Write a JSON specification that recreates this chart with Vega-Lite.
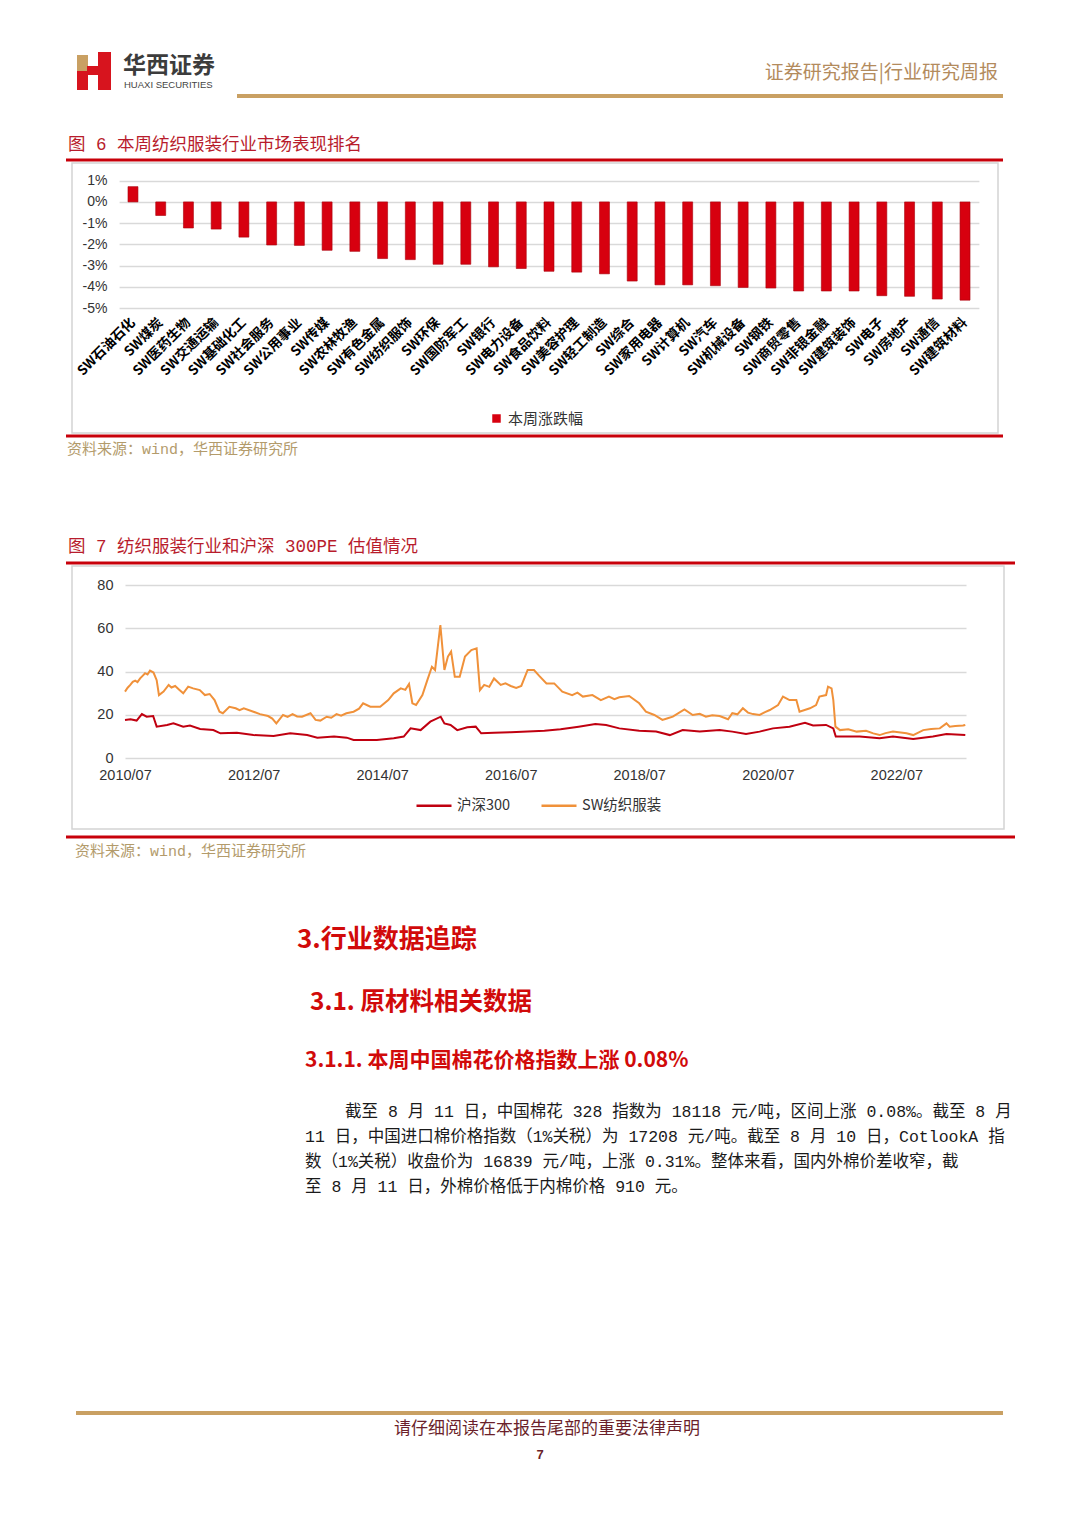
{
"$schema": "https://vega.github.io/schema/vega-lite/v6.json",
"width": 1080, "height": 1527, "padding": 0, "autosize": {"type": "none"},
"background": "white",
"config": {"view": {"stroke": null}, "font": "Noto Sans CJK SC"},
"datasets": {
"bars": [
{"name": "SW石油石化", "chg": 0.72, "series": "本周涨跌幅"},
{"name": "SW煤炭", "chg": -0.64, "series": "本周涨跌幅"},
{"name": "SW医药生物", "chg": -1.23, "series": "本周涨跌幅"},
{"name": "SW交通运输", "chg": -1.28, "series": "本周涨跌幅"},
{"name": "SW基础化工", "chg": -1.66, "series": "本周涨跌幅"},
{"name": "SW社会服务", "chg": -2.03, "series": "本周涨跌幅"},
{"name": "SW公用事业", "chg": -2.05, "series": "本周涨跌幅"},
{"name": "SW传媒", "chg": -2.28, "series": "本周涨跌幅"},
{"name": "SW农林牧渔", "chg": -2.33, "series": "本周涨跌幅"},
{"name": "SW有色金属", "chg": -2.67, "series": "本周涨跌幅"},
{"name": "SW纺织服饰", "chg": -2.72, "series": "本周涨跌幅"},
{"name": "SW环保", "chg": -2.94, "series": "本周涨跌幅"},
{"name": "SW国防军工", "chg": -2.94, "series": "本周涨跌幅"},
{"name": "SW银行", "chg": -3.06, "series": "本周涨跌幅"},
{"name": "SW电力设备", "chg": -3.14, "series": "本周涨跌幅"},
{"name": "SW食品饮料", "chg": -3.27, "series": "本周涨跌幅"},
{"name": "SW美容护理", "chg": -3.31, "series": "本周涨跌幅"},
{"name": "SW轻工制造", "chg": -3.39, "series": "本周涨跌幅"},
{"name": "SW综合", "chg": -3.73, "series": "本周涨跌幅"},
{"name": "SW家用电器", "chg": -3.91, "series": "本周涨跌幅"},
{"name": "SW计算机", "chg": -3.91, "series": "本周涨跌幅"},
{"name": "SW汽车", "chg": -3.95, "series": "本周涨跌幅"},
{"name": "SW机械设备", "chg": -4.03, "series": "本周涨跌幅"},
{"name": "SW钢铁", "chg": -4.06, "series": "本周涨跌幅"},
{"name": "SW商贸零售", "chg": -4.2, "series": "本周涨跌幅"},
{"name": "SW非银金融", "chg": -4.2, "series": "本周涨跌幅"},
{"name": "SW建筑装饰", "chg": -4.2, "series": "本周涨跌幅"},
{"name": "SW电子", "chg": -4.42, "series": "本周涨跌幅"},
{"name": "SW房地产", "chg": -4.45, "series": "本周涨跌幅"},
{"name": "SW通信", "chg": -4.58, "series": "本周涨跌幅"},
{"name": "SW建筑材料", "chg": -4.63, "series": "本周涨跌幅"}
],
"pe": [
{"date": "2010-07-01", "series": "SW纺织服装", "pe": 30.7},
{"date": "2010-07-16", "series": "SW纺织服装", "pe": 32.5},
{"date": "2010-07-31", "series": "SW纺织服装", "pe": 33.8},
{"date": "2010-08-14", "series": "SW纺织服装", "pe": 35.2},
{"date": "2010-08-28", "series": "SW纺织服装", "pe": 35.8},
{"date": "2010-09-10", "series": "SW纺织服装", "pe": 35.1},
{"date": "2010-09-25", "series": "SW纺织服装", "pe": 36.8},
{"date": "2010-10-09", "series": "SW纺织服装", "pe": 38.0},
{"date": "2010-10-23", "series": "SW纺织服装", "pe": 39.2},
{"date": "2010-11-06", "series": "SW纺织服装", "pe": 38.6},
{"date": "2010-11-20", "series": "SW纺织服装", "pe": 40.4},
{"date": "2010-12-10", "series": "SW纺织服装", "pe": 39.5},
{"date": "2010-12-28", "series": "SW纺织服装", "pe": 36.0},
{"date": "2011-01-10", "series": "SW纺织服装", "pe": 29.1},
{"date": "2011-02-05", "series": "SW纺织服装", "pe": 30.7},
{"date": "2011-03-06", "series": "SW纺织服装", "pe": 33.8},
{"date": "2011-03-22", "series": "SW纺织服装", "pe": 32.6},
{"date": "2011-04-12", "series": "SW纺织服装", "pe": 33.3},
{"date": "2011-05-05", "series": "SW纺织服装", "pe": 31.6},
{"date": "2011-05-28", "series": "SW纺织服装", "pe": 29.9},
{"date": "2011-06-25", "series": "SW纺织服装", "pe": 33.0},
{"date": "2011-07-23", "series": "SW纺织服装", "pe": 32.2},
{"date": "2011-08-30", "series": "SW纺织服装", "pe": 31.4},
{"date": "2011-09-28", "series": "SW纺织服装", "pe": 29.1},
{"date": "2011-10-25", "series": "SW纺织服装", "pe": 29.6},
{"date": "2011-11-22", "series": "SW纺织服装", "pe": 26.8},
{"date": "2011-12-20", "series": "SW纺织服装", "pe": 21.4},
{"date": "2012-01-08", "series": "SW纺织服装", "pe": 20.7},
{"date": "2012-02-14", "series": "SW纺织服装", "pe": 23.7},
{"date": "2012-03-21", "series": "SW纺织服装", "pe": 23.0},
{"date": "2012-04-12", "series": "SW纺织服装", "pe": 22.1},
{"date": "2012-05-06", "series": "SW纺织服装", "pe": 23.0},
{"date": "2012-06-30", "series": "SW纺织服装", "pe": 21.4},
{"date": "2012-08-06", "series": "SW纺织服装", "pe": 20.3},
{"date": "2012-09-21", "series": "SW纺织服装", "pe": 19.4},
{"date": "2012-10-15", "series": "SW纺织服装", "pe": 18.2},
{"date": "2012-11-07", "series": "SW纺织服装", "pe": 16.0},
{"date": "2012-12-15", "series": "SW纺织服装", "pe": 19.9},
{"date": "2013-01-10", "series": "SW纺织服装", "pe": 19.0},
{"date": "2013-02-07", "series": "SW纺织服装", "pe": 20.3},
{"date": "2013-03-05", "series": "SW纺织服装", "pe": 19.2},
{"date": "2013-04-02", "series": "SW纺织服装", "pe": 19.1},
{"date": "2013-05-20", "series": "SW纺织服装", "pe": 20.7},
{"date": "2013-06-18", "series": "SW纺织服装", "pe": 17.6},
{"date": "2013-07-15", "series": "SW纺织服装", "pe": 17.3},
{"date": "2013-08-20", "series": "SW纺织服装", "pe": 19.1},
{"date": "2013-09-15", "series": "SW纺织服装", "pe": 18.6},
{"date": "2013-10-15", "series": "SW纺织服装", "pe": 20.3},
{"date": "2013-11-10", "series": "SW纺织服装", "pe": 19.6},
{"date": "2013-12-10", "series": "SW纺织服装", "pe": 20.7},
{"date": "2014-01-20", "series": "SW纺织服装", "pe": 21.4},
{"date": "2014-02-20", "series": "SW纺织服装", "pe": 22.8},
{"date": "2014-03-15", "series": "SW纺织服装", "pe": 25.3},
{"date": "2014-04-25", "series": "SW纺织服装", "pe": 23.7},
{"date": "2014-06-20", "series": "SW纺织服装", "pe": 23.7},
{"date": "2014-08-05", "series": "SW纺织服装", "pe": 26.8},
{"date": "2014-09-05", "series": "SW纺织服装", "pe": 29.9},
{"date": "2014-10-15", "series": "SW纺织服装", "pe": 32.2},
{"date": "2014-11-10", "series": "SW纺织服装", "pe": 31.5},
{"date": "2014-12-01", "series": "SW纺织服装", "pe": 34.2},
{"date": "2014-12-20", "series": "SW纺织服装", "pe": 25.3},
{"date": "2015-01-10", "series": "SW纺织服装", "pe": 24.5},
{"date": "2015-02-15", "series": "SW纺织服装", "pe": 29.1},
{"date": "2015-03-15", "series": "SW纺织服装", "pe": 36.0},
{"date": "2015-04-10", "series": "SW纺织服装", "pe": 42.2},
{"date": "2015-04-28", "series": "SW纺织服装", "pe": 40.7},
{"date": "2015-05-28", "series": "SW纺织服装", "pe": 61.5},
{"date": "2015-06-20", "series": "SW纺织服装", "pe": 40.7},
{"date": "2015-07-10", "series": "SW纺织服装", "pe": 46.9},
{"date": "2015-07-28", "series": "SW纺织服装", "pe": 49.2},
{"date": "2015-08-18", "series": "SW纺织服装", "pe": 37.6},
{"date": "2015-09-15", "series": "SW纺织服装", "pe": 37.6},
{"date": "2015-10-15", "series": "SW纺织服装", "pe": 46.9},
{"date": "2015-11-20", "series": "SW纺织服装", "pe": 49.9},
{"date": "2015-12-20", "series": "SW纺织服装", "pe": 50.7},
{"date": "2016-01-08", "series": "SW纺织服装", "pe": 31.4},
{"date": "2016-02-01", "series": "SW纺织服装", "pe": 33.8},
{"date": "2016-03-01", "series": "SW纺织服装", "pe": 32.9},
{"date": "2016-03-28", "series": "SW纺织服装", "pe": 36.8},
{"date": "2016-05-05", "series": "SW纺织服装", "pe": 33.8},
{"date": "2016-06-01", "series": "SW纺织服装", "pe": 34.5},
{"date": "2016-07-01", "series": "SW纺织服装", "pe": 33.3},
{"date": "2016-08-01", "series": "SW纺织服装", "pe": 32.4},
{"date": "2016-08-30", "series": "SW纺织服装", "pe": 33.3},
{"date": "2016-10-05", "series": "SW纺织服装", "pe": 40.7},
{"date": "2016-11-10", "series": "SW纺织服装", "pe": 40.7},
{"date": "2016-12-10", "series": "SW纺织服装", "pe": 38.0},
{"date": "2017-01-20", "series": "SW纺织服装", "pe": 34.5},
{"date": "2017-03-05", "series": "SW纺织服装", "pe": 34.5},
{"date": "2017-04-20", "series": "SW纺织服装", "pe": 30.7},
{"date": "2017-06-15", "series": "SW纺织服装", "pe": 29.1},
{"date": "2017-07-15", "series": "SW纺织服装", "pe": 30.2},
{"date": "2017-08-15", "series": "SW纺织服装", "pe": 28.4},
{"date": "2017-10-08", "series": "SW纺织服装", "pe": 29.1},
{"date": "2017-11-25", "series": "SW纺织服装", "pe": 26.8},
{"date": "2018-01-10", "series": "SW纺织服装", "pe": 28.4},
{"date": "2018-02-10", "series": "SW纺织服装", "pe": 27.2},
{"date": "2018-03-10", "series": "SW纺织服装", "pe": 28.1},
{"date": "2018-05-05", "series": "SW纺织服装", "pe": 28.7},
{"date": "2018-07-01", "series": "SW纺织服装", "pe": 25.3},
{"date": "2018-08-08", "series": "SW纺织服装", "pe": 21.4},
{"date": "2018-09-25", "series": "SW纺织服装", "pe": 19.9},
{"date": "2018-11-10", "series": "SW纺织服装", "pe": 17.6},
{"date": "2018-12-10", "series": "SW纺织服装", "pe": 18.4},
{"date": "2019-01-08", "series": "SW纺织服装", "pe": 19.1},
{"date": "2019-03-15", "series": "SW纺织服装", "pe": 22.5},
{"date": "2019-05-01", "series": "SW纺织服装", "pe": 19.9},
{"date": "2019-06-10", "series": "SW纺织服装", "pe": 20.4},
{"date": "2019-07-15", "series": "SW纺织服装", "pe": 19.1},
{"date": "2019-08-20", "series": "SW纺织服装", "pe": 19.8},
{"date": "2019-10-01", "series": "SW纺织服装", "pe": 19.4},
{"date": "2019-11-18", "series": "SW纺织服装", "pe": 17.9},
{"date": "2019-12-12", "series": "SW纺织服装", "pe": 20.7},
{"date": "2020-01-10", "series": "SW纺织服装", "pe": 20.2},
{"date": "2020-02-10", "series": "SW纺织服装", "pe": 23.0},
{"date": "2020-03-10", "series": "SW纺织服装", "pe": 21.0},
{"date": "2020-04-08", "series": "SW纺织服装", "pe": 20.3},
{"date": "2020-05-15", "series": "SW纺织服装", "pe": 19.9},
{"date": "2020-06-15", "series": "SW纺织服装", "pe": 21.2},
{"date": "2020-07-12", "series": "SW纺织服装", "pe": 22.2},
{"date": "2020-08-28", "series": "SW纺织服装", "pe": 24.5},
{"date": "2020-09-25", "series": "SW纺织服装", "pe": 28.4},
{"date": "2020-11-01", "series": "SW纺织服装", "pe": 26.8},
{"date": "2020-12-10", "series": "SW纺织服装", "pe": 26.8},
{"date": "2020-12-28", "series": "SW纺织服装", "pe": 21.4},
{"date": "2021-02-25", "series": "SW纺织服装", "pe": 23.0},
{"date": "2021-04-01", "series": "SW纺织服装", "pe": 24.5},
{"date": "2021-04-20", "series": "SW纺织服装", "pe": 28.4},
{"date": "2021-05-28", "series": "SW纺织服装", "pe": 29.1},
{"date": "2021-06-08", "series": "SW纺织服装", "pe": 33.0},
{"date": "2021-06-28", "series": "SW纺织服装", "pe": 32.2},
{"date": "2021-07-08", "series": "SW纺织服装", "pe": 26.8},
{"date": "2021-07-20", "series": "SW纺织服装", "pe": 14.5},
{"date": "2021-08-15", "series": "SW纺织服装", "pe": 12.9},
{"date": "2021-10-01", "series": "SW纺织服装", "pe": 13.3},
{"date": "2021-11-18", "series": "SW纺织服装", "pe": 12.2},
{"date": "2022-01-10", "series": "SW纺织服装", "pe": 12.6},
{"date": "2022-02-20", "series": "SW纺织服装", "pe": 11.4},
{"date": "2022-03-28", "series": "SW纺织服装", "pe": 10.6},
{"date": "2022-05-01", "series": "SW纺织服装", "pe": 11.5},
{"date": "2022-06-12", "series": "SW纺织服装", "pe": 12.2},
{"date": "2022-08-28", "series": "SW纺织服装", "pe": 11.4},
{"date": "2022-10-05", "series": "SW纺织服装", "pe": 10.6},
{"date": "2022-12-01", "series": "SW纺织服装", "pe": 12.9},
{"date": "2023-01-15", "series": "SW纺织服装", "pe": 13.4},
{"date": "2023-03-05", "series": "SW纺织服装", "pe": 13.7},
{"date": "2023-04-12", "series": "SW纺织服装", "pe": 16.0},
{"date": "2023-04-30", "series": "SW纺织服装", "pe": 14.5},
{"date": "2023-06-01", "series": "SW纺织服装", "pe": 14.8},
{"date": "2023-07-15", "series": "SW纺织服装", "pe": 15.0},
{"date": "2023-07-28", "series": "SW纺织服装", "pe": 15.3},
{"date": "2010-07-01", "series": "沪深300", "pe": 17.6},
{"date": "2010-08-01", "series": "沪深300", "pe": 17.9},
{"date": "2010-09-05", "series": "沪深300", "pe": 17.3},
{"date": "2010-10-05", "series": "沪深300", "pe": 20.3},
{"date": "2010-11-01", "series": "沪深300", "pe": 19.1},
{"date": "2010-12-08", "series": "沪深300", "pe": 19.4},
{"date": "2010-12-28", "series": "沪深300", "pe": 14.5},
{"date": "2011-02-25", "series": "沪深300", "pe": 15.3},
{"date": "2011-04-02", "series": "沪深300", "pe": 16.0},
{"date": "2011-05-28", "series": "沪深300", "pe": 14.5},
{"date": "2011-07-05", "series": "沪深300", "pe": 15.0},
{"date": "2011-09-01", "series": "沪深300", "pe": 13.4},
{"date": "2011-11-15", "series": "沪深300", "pe": 12.9},
{"date": "2011-12-25", "series": "沪深300", "pe": 11.4},
{"date": "2012-03-28", "series": "沪深300", "pe": 11.7},
{"date": "2012-06-30", "series": "沪深300", "pe": 10.6},
{"date": "2012-10-22", "series": "沪深300", "pe": 10.2},
{"date": "2013-01-25", "series": "沪深300", "pe": 11.4},
{"date": "2013-05-01", "series": "沪深300", "pe": 10.6},
{"date": "2013-06-28", "series": "沪深300", "pe": 9.4},
{"date": "2013-10-01", "series": "沪深300", "pe": 9.9},
{"date": "2013-12-12", "series": "沪深300", "pe": 9.4},
{"date": "2014-01-20", "series": "沪深300", "pe": 8.3},
{"date": "2014-06-01", "series": "沪深300", "pe": 8.3},
{"date": "2014-09-05", "series": "沪深300", "pe": 9.1},
{"date": "2014-11-01", "series": "沪深300", "pe": 9.9},
{"date": "2014-12-10", "series": "沪深300", "pe": 13.7},
{"date": "2015-02-05", "series": "沪深300", "pe": 12.9},
{"date": "2015-04-01", "series": "沪深300", "pe": 16.8},
{"date": "2015-05-30", "series": "沪深300", "pe": 19.1},
{"date": "2015-06-20", "series": "沪深300", "pe": 16.0},
{"date": "2015-07-25", "series": "沪深300", "pe": 15.3},
{"date": "2015-09-01", "series": "沪深300", "pe": 12.9},
{"date": "2015-10-28", "series": "沪深300", "pe": 14.2},
{"date": "2015-12-15", "series": "沪深300", "pe": 14.5},
{"date": "2016-01-15", "series": "沪深300", "pe": 11.4},
{"date": "2016-03-28", "series": "沪深300", "pe": 11.7},
{"date": "2016-07-01", "series": "沪深300", "pe": 11.9},
{"date": "2016-10-05", "series": "沪深300", "pe": 12.2},
{"date": "2017-01-08", "series": "沪深300", "pe": 12.6},
{"date": "2017-04-10", "series": "沪深300", "pe": 13.3},
{"date": "2017-07-22", "series": "沪深300", "pe": 14.5},
{"date": "2017-10-25", "series": "沪深300", "pe": 15.7},
{"date": "2017-12-25", "series": "沪深300", "pe": 15.3},
{"date": "2018-03-10", "series": "沪深300", "pe": 13.7},
{"date": "2018-07-01", "series": "沪深300", "pe": 12.6},
{"date": "2018-10-05", "series": "沪深300", "pe": 12.2},
{"date": "2018-12-22", "series": "沪深300", "pe": 10.6},
{"date": "2019-03-05", "series": "沪深300", "pe": 12.9},
{"date": "2019-06-10", "series": "沪深300", "pe": 12.2},
{"date": "2019-10-01", "series": "沪深300", "pe": 12.9},
{"date": "2019-12-12", "series": "沪深300", "pe": 12.2},
{"date": "2020-02-28", "series": "沪深300", "pe": 11.1},
{"date": "2020-05-15", "series": "沪深300", "pe": 12.2},
{"date": "2020-07-30", "series": "沪深300", "pe": 13.7},
{"date": "2020-11-01", "series": "沪深300", "pe": 14.5},
{"date": "2021-01-28", "series": "沪深300", "pe": 16.3},
{"date": "2021-03-15", "series": "沪深300", "pe": 15.0},
{"date": "2021-05-28", "series": "沪深300", "pe": 15.3},
{"date": "2021-07-08", "series": "沪深300", "pe": 13.7},
{"date": "2021-07-22", "series": "沪深300", "pe": 9.9},
{"date": "2021-12-05", "series": "沪深300", "pe": 9.9},
{"date": "2022-03-28", "series": "沪深300", "pe": 9.1},
{"date": "2022-06-12", "series": "沪深300", "pe": 9.9},
{"date": "2022-10-05", "series": "沪深300", "pe": 8.8},
{"date": "2023-01-25", "series": "沪深300", "pe": 9.9},
{"date": "2023-04-12", "series": "沪深300", "pe": 11.1},
{"date": "2023-07-28", "series": "沪深300", "pe": 10.6}
]
},
"layer": [
{
"layer": [
{"data": {"values": [{"k": "frame6"}]}, "mark": {"type": "rect", "filled": false, "color": "#d4d4d4", "strokeWidth": 1.5},
 "encoding": {"x": {"datum": 72, "type": "quantitative", "scale": {"domain": [0, 1080], "range": [0, 1080], "nice": false, "zero": false}, "axis": null}, "x2": {"datum": 998}, "y": {"datum": 163, "type": "quantitative", "scale": {"domain": [0, 1527], "range": [0, 1527], "nice": false, "zero": false}, "axis": null}, "y2": {"datum": 433}}},
{"data": {"values": [{"k": "frame7"}]}, "mark": {"type": "rect", "filled": false, "color": "#d4d4d4", "strokeWidth": 1.5},
 "encoding": {"x": {"datum": 72, "type": "quantitative", "axis": null}, "x2": {"datum": 1004}, "y": {"datum": 566, "type": "quantitative", "axis": null}, "y2": {"datum": 829}}},
{"data": {"values": [{"k": "logo gold"}]}, "mark": {"type": "rect", "color": "#c9a063"},
 "encoding": {"x": {"datum": 77, "type": "quantitative", "axis": null}, "x2": {"datum": 88}, "y": {"datum": 55, "type": "quantitative", "axis": null}, "y2": {"datum": 71}}},
{"data": {"values": [{"k": "logo red a"}]}, "mark": {"type": "rect", "color": "#d7141e"},
 "encoding": {"x": {"datum": 77, "type": "quantitative", "axis": null}, "x2": {"datum": 88}, "y": {"datum": 71, "type": "quantitative", "axis": null}, "y2": {"datum": 90}}},
{"data": {"values": [{"k": "logo red b"}]}, "mark": {"type": "rect", "color": "#d7141e"},
 "encoding": {"x": {"datum": 98, "type": "quantitative", "axis": null}, "x2": {"datum": 111}, "y": {"datum": 52, "type": "quantitative", "axis": null}, "y2": {"datum": 90}}},
{"data": {"values": [{"k": "logo red c"}]}, "mark": {"type": "rect", "color": "#d7141e"},
 "encoding": {"x": {"datum": 87, "type": "quantitative", "axis": null}, "x2": {"datum": 99}, "y": {"datum": 66, "type": "quantitative", "axis": null}, "y2": {"datum": 75}}},
{"data": {"values": [{"k": "gold top"}]}, "mark": {"type": "rule", "color": "#c9a063", "strokeWidth": 4},
 "encoding": {"x": {"datum": 237, "type": "quantitative", "axis": null}, "x2": {"datum": 1003}, "y": {"datum": 96, "type": "quantitative", "axis": null}}},
{"data": {"values": [{"k": "gold bottom"}]}, "mark": {"type": "rule", "color": "#c9a063", "strokeWidth": 4},
 "encoding": {"x": {"datum": 76, "type": "quantitative", "axis": null}, "x2": {"datum": 1003}, "y": {"datum": 1413, "type": "quantitative", "axis": null}}},
{"data": {"values": [{"k": "red 6 top"}]}, "mark": {"type": "rule", "color": "#c8000a", "strokeWidth": 3},
 "encoding": {"x": {"datum": 66, "type": "quantitative", "axis": null}, "x2": {"datum": 1003}, "y": {"datum": 160, "type": "quantitative", "axis": null}}},
{"data": {"values": [{"k": "red 6 bottom"}]}, "mark": {"type": "rule", "color": "#c8000a", "strokeWidth": 3},
 "encoding": {"x": {"datum": 66, "type": "quantitative", "axis": null}, "x2": {"datum": 1003}, "y": {"datum": 436, "type": "quantitative", "axis": null}}},
{"data": {"values": [{"k": "red 7 top"}]}, "mark": {"type": "rule", "color": "#c8000a", "strokeWidth": 3},
 "encoding": {"x": {"datum": 66, "type": "quantitative", "axis": null}, "x2": {"datum": 1015}, "y": {"datum": 563, "type": "quantitative", "axis": null}}},
{"data": {"values": [{"k": "red 7 bottom"}]}, "mark": {"type": "rule", "color": "#c8000a", "strokeWidth": 3},
 "encoding": {"x": {"datum": 66, "type": "quantitative", "axis": null}, "x2": {"datum": 1015}, "y": {"datum": 837, "type": "quantitative", "axis": null}}},
{"data": {"values": [{"t": "华西证券"}]}, "mark": {"type": "text", "align": "left", "baseline": "middle", "font": "Noto Sans CJK SC", "fontSize": 23, "fontWeight": "bold", "color": "#3c3c3c"},
 "encoding": {"x": {"datum": 123, "type": "quantitative", "axis": null}, "y": {"datum": 66, "type": "quantitative", "axis": null}, "text": {"field": "t"}}},
{"data": {"values": [{"t": "HUAXI SECURITIES"}]}, "mark": {"type": "text", "align": "left", "baseline": "middle", "font": "Liberation Sans", "fontSize": 9.5, "color": "#444444"},
 "encoding": {"x": {"datum": 124, "type": "quantitative", "axis": null}, "y": {"datum": 85, "type": "quantitative", "axis": null}, "text": {"field": "t"}}},
{"data": {"values": [{"t": "证券研究报告|行业研究周报"}]}, "mark": {"type": "text", "align": "right", "baseline": "middle", "font": "Noto Sans CJK SC", "fontSize": 19, "color": "#b38b5d"},
 "encoding": {"x": {"datum": 998, "type": "quantitative", "axis": null}, "y": {"datum": 73, "type": "quantitative", "axis": null}, "text": {"field": "t"}}},
{"data": {"values": [{"t": "图 6 本周纺织服装行业市场表现排名"}]}, "mark": {"type": "text", "align": "left", "baseline": "middle", "font": "Liberation Mono, Noto Sans CJK SC", "fontSize": 17.5, "color": "#b81c2c"},
 "encoding": {"x": {"datum": 68, "type": "quantitative", "axis": null}, "y": {"datum": 145, "type": "quantitative", "axis": null}, "text": {"field": "t"}}},
{"data": {"values": [{"t": "资料来源：wind，华西证券研究所"}]}, "mark": {"type": "text", "align": "left", "baseline": "middle", "font": "Liberation Mono, Noto Sans CJK SC", "fontSize": 15, "color": "#b39b6b"},
 "encoding": {"x": {"datum": 67, "type": "quantitative", "axis": null}, "y": {"datum": 449, "type": "quantitative", "axis": null}, "text": {"field": "t"}}},
{"data": {"values": [{"t": "图 7 纺织服装行业和沪深 300PE 估值情况"}]}, "mark": {"type": "text", "align": "left", "baseline": "middle", "font": "Liberation Mono, Noto Sans CJK SC", "fontSize": 17.5, "color": "#b81c2c"},
 "encoding": {"x": {"datum": 68, "type": "quantitative", "axis": null}, "y": {"datum": 547, "type": "quantitative", "axis": null}, "text": {"field": "t"}}},
{"data": {"values": [{"t": "资料来源：wind，华西证券研究所"}]}, "mark": {"type": "text", "align": "left", "baseline": "middle", "font": "Liberation Mono, Noto Sans CJK SC", "fontSize": 15, "color": "#b39b6b"},
 "encoding": {"x": {"datum": 75, "type": "quantitative", "axis": null}, "y": {"datum": 851, "type": "quantitative", "axis": null}, "text": {"field": "t"}}},
{"data": {"values": [{"t": "3.行业数据追踪"}]}, "mark": {"type": "text", "align": "left", "baseline": "middle", "font": "Noto Sans CJK SC", "fontSize": 26, "fontWeight": "bold", "color": "#d10a0a"},
 "encoding": {"x": {"datum": 297, "type": "quantitative", "axis": null}, "y": {"datum": 940, "type": "quantitative", "axis": null}, "text": {"field": "t"}}},
{"data": {"values": [{"t": "3.1. 原材料相关数据"}]}, "mark": {"type": "text", "align": "left", "baseline": "middle", "font": "Noto Sans CJK SC", "fontSize": 24.5, "fontWeight": "bold", "color": "#d10a0a"},
 "encoding": {"x": {"datum": 310, "type": "quantitative", "axis": null}, "y": {"datum": 1003, "type": "quantitative", "axis": null}, "text": {"field": "t"}}},
{"data": {"values": [{"t": "3.1.1. 本周中国棉花价格指数上涨 0.08%"}]}, "mark": {"type": "text", "align": "left", "baseline": "middle", "font": "Noto Sans CJK SC", "fontSize": 21, "fontWeight": "bold", "color": "#d10a0a"},
 "encoding": {"x": {"datum": 305, "type": "quantitative", "axis": null}, "y": {"datum": 1061, "type": "quantitative", "axis": null}, "text": {"field": "t"}}},
{"data": {"values": [{"t": "截至 8 月 11 日，中国棉花 328 指数为 18118 元/吨，区间上涨 0.08%。截至 8 月"}]}, "mark": {"type": "text", "align": "left", "baseline": "middle", "font": "Liberation Mono, Noto Sans CJK SC", "fontSize": 16.5, "color": "#1a1a1a"},
 "encoding": {"x": {"datum": 345, "type": "quantitative", "axis": null}, "y": {"datum": 1112, "type": "quantitative", "axis": null}, "text": {"field": "t"}}},
{"data": {"values": [{"t": "11 日，中国进口棉价格指数（1%关税）为 17208 元/吨。截至 8 月 10 日，CotlookA 指"}]}, "mark": {"type": "text", "align": "left", "baseline": "middle", "font": "Liberation Mono, Noto Sans CJK SC", "fontSize": 16.5, "color": "#1a1a1a"},
 "encoding": {"x": {"datum": 305, "type": "quantitative", "axis": null}, "y": {"datum": 1137, "type": "quantitative", "axis": null}, "text": {"field": "t"}}},
{"data": {"values": [{"t": "数（1%关税）收盘价为 16839 元/吨，上涨 0.31%。整体来看，国内外棉价差收窄，截"}]}, "mark": {"type": "text", "align": "left", "baseline": "middle", "font": "Liberation Mono, Noto Sans CJK SC", "fontSize": 16.5, "color": "#1a1a1a"},
 "encoding": {"x": {"datum": 305, "type": "quantitative", "axis": null}, "y": {"datum": 1162, "type": "quantitative", "axis": null}, "text": {"field": "t"}}},
{"data": {"values": [{"t": "至 8 月 11 日，外棉价格低于内棉价格 910 元。"}]}, "mark": {"type": "text", "align": "left", "baseline": "middle", "font": "Liberation Mono, Noto Sans CJK SC", "fontSize": 16.5, "color": "#1a1a1a"},
 "encoding": {"x": {"datum": 305, "type": "quantitative", "axis": null}, "y": {"datum": 1187, "type": "quantitative", "axis": null}, "text": {"field": "t"}}},
{"data": {"values": [{"t": "请仔细阅读在本报告尾部的重要法律声明"}]}, "mark": {"type": "text", "align": "center", "baseline": "middle", "font": "Noto Sans CJK SC", "fontSize": 17, "color": "#6b1f2a"},
 "encoding": {"x": {"datum": 547, "type": "quantitative", "axis": null}, "y": {"datum": 1429, "type": "quantitative", "axis": null}, "text": {"field": "t"}}},
{"data": {"values": [{"t": "7"}]}, "mark": {"type": "text", "align": "center", "baseline": "middle", "font": "Liberation Sans", "fontSize": 13, "fontWeight": "bold", "color": "#6b1f2a"},
 "encoding": {"x": {"datum": 540, "type": "quantitative", "axis": null}, "y": {"datum": 1455, "type": "quantitative", "axis": null}, "text": {"field": "t"}}}
]
},
{
"data": {"name": "bars"},
"mark": {"type": "bar", "color": "#d7000f", "stroke": "#a8000c", "strokeWidth": 0.6},
"encoding": {
 "x": {"field": "name", "type": "nominal", "sort": null,
  "scale": {"range": [119.1, 978.9], "paddingInner": 0.64, "paddingOuter": 0.32},
  "axis": {"orient": "bottom", "offset": -1219, "title": null, "labelAngle": -45, "labelAlign": "right", "labelBaseline": "middle", "labelPadding": 12, "labelFont": "Noto Sans CJK SC", "labelFontSize": 13.5, "labelFontWeight": "bold", "labelColor": "#000000", "domain": false, "ticks": false, "grid": false, "labelOverlap": false, "labelLimit": 0, "labelBound": false, "labelFlush": false}},
 "y": {"field": "chg", "type": "quantitative", "stack": null,
  "scale": {"domain": [-5, 1], "range": [308, 180.7], "nice": false},
  "axis": {"orient": "left", "offset": -119, "title": null, "values": [1, 0, -1, -2, -3, -4, -5], "labelExpr": "datum.value + '%'", "grid": true, "gridColor": "#d9d9d9", "gridWidth": 1.5, "domain": false, "ticks": false, "labelPadding": 12, "labelFont": "Liberation Sans", "labelFontSize": 14, "labelColor": "#333333"}},
 "color": {"field": "series", "type": "nominal",
  "scale": {"domain": ["本周涨跌幅"], "range": ["#d7000f"]},
  "legend": {"orient": "none", "legendX": 489, "legendY": 411, "title": null, "symbolType": "square", "symbolSize": 72, "symbolStrokeWidth": 0, "labelFont": "Noto Sans CJK SC", "labelFontSize": 15, "labelColor": "#333333", "labelOffset": 4, "padding": 0}}
}
},
{
"data": {"name": "pe"},
"mark": {"type": "line", "strokeWidth": 2, "interpolate": "linear"},
"encoding": {
 "x": {"field": "date", "type": "temporal",
  "scale": {"domain": [{"year": 2010, "month": 7, "date": 1}, {"year": 2023, "month": 8, "date": 1}], "range": [125, 966], "nice": false},
  "axis": {"orient": "bottom", "offset": -769, "title": null, "values": [{"year": 2010, "month": 7, "date": 1}, {"year": 2012, "month": 7, "date": 1}, {"year": 2014, "month": 7, "date": 1}, {"year": 2016, "month": 7, "date": 1}, {"year": 2018, "month": 7, "date": 1}, {"year": 2020, "month": 7, "date": 1}, {"year": 2022, "month": 7, "date": 1}], "format": "%Y/%m", "labelPadding": 10, "labelFont": "Liberation Sans", "labelFontSize": 14.5, "labelColor": "#333333", "domain": false, "ticks": false, "grid": false, "labelFlush": false, "labelOverlap": false}},
 "y": {"field": "pe", "type": "quantitative",
  "scale": {"domain": [0, 80], "range": [758, 585], "nice": false},
  "axis": {"orient": "left", "offset": -120, "title": null, "values": [0, 20, 40, 60, 80], "grid": true, "gridColor": "#d9d9d9", "gridWidth": 1.5, "domain": false, "ticks": false, "labelPadding": 7, "labelFont": "Liberation Sans", "labelFontSize": 14.5, "labelColor": "#333333"}},
 "color": {"field": "series", "type": "nominal",
  "scale": {"domain": ["沪深300", "SW纺织服装"], "range": ["#c00010", "#f0913a"]},
  "legend": {"orient": "none", "legendX": 415, "legendY": 786.5, "direction": "horizontal", "title": null, "symbolType": "stroke", "symbolSize": 1225, "symbolStrokeWidth": 2.5, "labelFont": "Noto Sans CJK SC", "labelFontSize": 14.5, "labelColor": "#333333", "labelOffset": 4, "columnPadding": 25, "padding": 0}}
}
}
],
"resolve": {"scale": {"x": "independent", "y": "independent", "color": "independent"}, "axis": {"x": "independent", "y": "independent"}, "legend": {"color": "independent"}}
}
